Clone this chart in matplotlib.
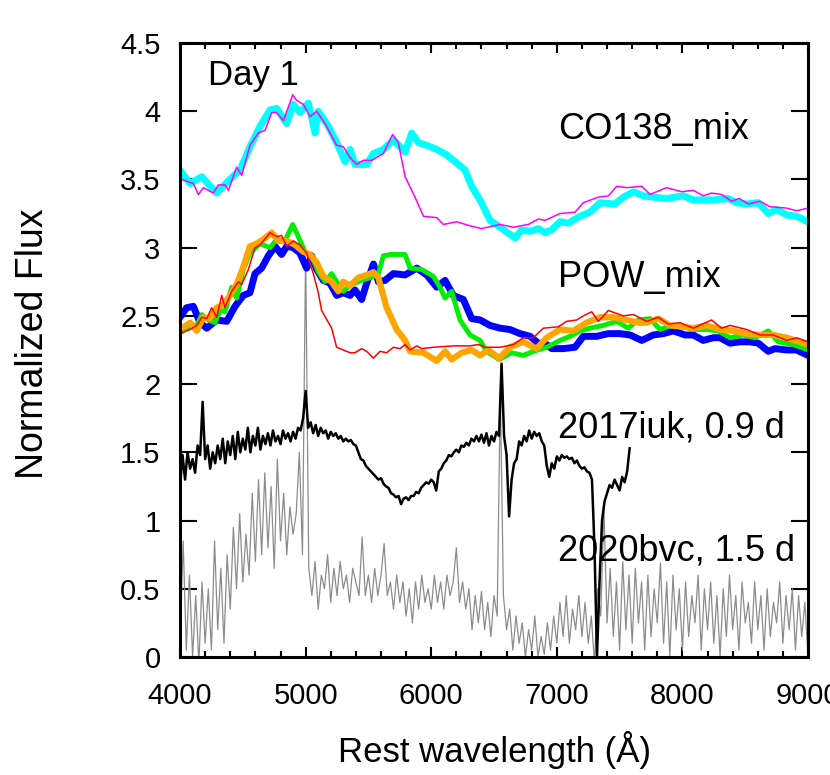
import numpy as np
import matplotlib
matplotlib.use('Agg')
import matplotlib.pyplot as plt
from matplotlib.ticker import MultipleLocator, FormatStrFormatter

plt.rcParams['font.family'] = ['Liberation Sans', 'DejaVu Sans']
FONT_SIZE = 21

# ---- CO138_mix models (cyan thick, magenta thin) ----
co_a_wl = [4013, 4080, 4173, 4292, 4385, 4478, 4557, 4637, 4717, 4770, 4849, 4902, 4955,
           5022, 5075, 5101, 5181, 5247, 5314, 5354, 5393, 5486, 5540, 5619, 5699, 5792,
           5845, 5898, 5964, 6044, 6123, 6203, 6269, 6322, 6400, 6468, 6548, 6667, 6720,
           6787, 6853, 6906, 6959, 7025, 7092, 7185, 7264, 7344, 7463, 7530, 7609, 7689,
           7768, 7874, 8007, 8087, 8166, 8246, 8365, 8432, 8511, 8604, 8684, 8750, 8830,
           8909, 9000]
co_a_fx = [3.55, 3.47, 3.52, 3.40, 3.49, 3.57, 3.74, 3.89, 4.01, 4.02, 3.91, 4.05, 3.99,
           4.06, 3.84, 4.00, 3.89, 3.77, 3.63, 3.72, 3.61, 3.61, 3.69, 3.72, 3.79, 3.70,
           3.84, 3.77, 3.75, 3.72, 3.68, 3.62, 3.57, 3.45, 3.33, 3.20, 3.15, 3.07, 3.13,
           3.12, 3.14, 3.11, 3.13, 3.19, 3.18, 3.23, 3.26, 3.33, 3.32, 3.37, 3.41, 3.38,
           3.37, 3.36, 3.38, 3.35, 3.35, 3.35, 3.36, 3.33, 3.32, 3.33, 3.25, 3.28, 3.24,
           3.23, 3.19]

co_b_wl = [4000, 4013, 4106, 4146, 4186, 4265, 4305, 4358, 4385, 4451, 4491, 4557, 4623,
           4677, 4730, 4770, 4823, 4897, 4928, 4982, 5035, 5088, 5154, 5247, 5300, 5354,
           5406, 5459, 5526, 5619, 5693, 5738, 5792, 5871, 5938, 6044, 6097, 6203, 6309,
           6400, 6548, 6654, 6773, 6853, 6906, 7025, 7145, 7211, 7331, 7411, 7477, 7557,
           7676, 7742, 7874, 7994, 8087, 8166, 8232, 8312, 8392, 8452, 8525, 8618, 8697,
           8830, 8909, 9000]
co_b_fx = [3.51, 3.50, 3.47, 3.39, 3.44, 3.40, 3.46, 3.46, 3.42, 3.59, 3.53, 3.75, 3.84,
           3.86, 3.99, 3.99, 3.93, 4.12, 4.08, 4.05, 3.96, 4.00, 3.91, 3.75, 3.74, 3.66,
           3.61, 3.64, 3.64, 3.69, 3.83, 3.77, 3.52, 3.37, 3.23, 3.22, 3.17, 3.19, 3.16,
           3.14, 3.17, 3.15, 3.17, 3.21, 3.20, 3.25, 3.26, 3.33, 3.37, 3.38, 3.45, 3.44,
           3.45, 3.39, 3.44, 3.41, 3.42, 3.38, 3.40, 3.39, 3.34, 3.36, 3.32, 3.34, 3.30,
           3.29, 3.27, 3.29]

# ---- POW_mix models ----
pow_blue_wl = [4000, 4053, 4106, 4159, 4213, 4292, 4372, 4438, 4504, 4557, 4597, 4650, 4703,
               4756, 4809, 4849, 4902, 4955, 5008, 5048, 5088, 5141, 5194, 5247, 5300,
               5354, 5393, 5446, 5486, 5540, 5579, 5632, 5699, 5792, 5885, 5964, 6044,
               6110, 6176, 6256, 6322, 6389, 6468, 6548, 6627, 6707, 6787, 6853, 6919,
               6959, 7052, 7145, 7211, 7317, 7410, 7503, 7583, 7676, 7768, 7848, 7928,
               8021, 8087, 8166, 8246, 8299, 8379, 8458, 8537, 8604, 8684, 8737, 8830,
               8909, 9000]
pow_blue_fx = [2.49, 2.56, 2.57, 2.45, 2.41, 2.47, 2.46, 2.57, 2.65, 2.67, 2.81, 2.85, 2.94,
               3.01, 2.95, 3.01, 3.00, 2.96, 2.85, 2.94, 2.84, 2.76, 2.74, 2.65, 2.67,
               2.65, 2.69, 2.62, 2.74, 2.88, 2.75, 2.76, 2.81, 2.80, 2.85, 2.80, 2.71,
               2.76, 2.65, 2.62, 2.48, 2.47, 2.43, 2.41, 2.40, 2.37, 2.35, 2.30, 2.29,
               2.26, 2.26, 2.27, 2.35, 2.35, 2.37, 2.37, 2.36, 2.32, 2.36, 2.37, 2.39,
               2.36, 2.36, 2.32, 2.34, 2.34, 2.30, 2.31, 2.31, 2.30, 2.24, 2.26, 2.25,
               2.25, 2.21]

pow_green_wl = [4000, 4080, 4133, 4173, 4226, 4279, 4318, 4358, 4411, 4451, 4504, 4557, 4637,
                4717, 4770, 4836, 4897, 4942, 4995, 5048, 5101, 5154, 5207, 5247, 5300,
                5366, 5446, 5513, 5579, 5619, 5672, 5792, 5831, 5924, 6017, 6070, 6110,
                6163, 6229, 6309, 6389, 6441, 6541, 6640, 6733, 6813, 6919, 7025, 7105,
                7185, 7264, 7370, 7477, 7569, 7649, 7742, 7822, 7915, 8007, 8100, 8193,
                8285, 8379, 8484, 8577, 8684, 8763, 8882, 9000]
pow_green_fx = [2.38, 2.42, 2.43, 2.51, 2.47, 2.45, 2.54, 2.53, 2.71, 2.63, 2.84, 2.96, 3.03,
                3.00, 3.06, 3.05, 3.17, 3.08, 2.97, 2.94, 2.82, 2.75, 2.81, 2.75, 2.68,
                2.73, 2.76, 2.78, 2.81, 2.94, 2.95, 2.95, 2.85, 2.84, 2.79, 2.71, 2.63,
                2.68, 2.47, 2.36, 2.32, 2.24, 2.18, 2.23, 2.21, 2.24, 2.27, 2.32, 2.35,
                2.39, 2.41, 2.43, 2.46, 2.41, 2.47, 2.48, 2.40, 2.43, 2.42, 2.40, 2.40,
                2.39, 2.34, 2.36, 2.34, 2.39, 2.31, 2.29, 2.25]

pow_orange_wl = [4000, 4080, 4133, 4186, 4239, 4292, 4345, 4398, 4451, 4504, 4557, 4611, 4677,
                 4730, 4783, 4849, 4916, 4982, 5035, 5088, 5141, 5207, 5260, 5300, 5354,
                 5420, 5486, 5540, 5579, 5645, 5725, 5792, 5831, 5938, 6044, 6110, 6163,
                 6242, 6322, 6389, 6455, 6541, 6627, 6733, 6839, 6919, 7025, 7131, 7237,
                 7344, 7450, 7556, 7649, 7715, 7808, 7901, 8007, 8087, 8193, 8299, 8405,
                 8511, 8618, 8724, 8830, 9000]
pow_orange_fx = [2.40, 2.45, 2.39, 2.49, 2.48, 2.56, 2.58, 2.65, 2.73, 2.86, 3.01, 3.03, 3.07,
                 3.11, 3.05, 3.05, 3.02, 2.97, 2.95, 2.89, 2.79, 2.75, 2.68, 2.75, 2.72,
                 2.78, 2.80, 2.82, 2.78, 2.56, 2.40, 2.32, 2.24, 2.23, 2.17, 2.24, 2.18,
                 2.23, 2.25, 2.21, 2.25, 2.19, 2.27, 2.31, 2.26, 2.34, 2.40, 2.39, 2.45,
                 2.49, 2.49, 2.47, 2.45, 2.45, 2.48, 2.43, 2.42, 2.41, 2.43, 2.40, 2.39,
                 2.37, 2.36, 2.36, 2.34, 2.29]

pow_red_wl = [4000, 4080, 4133, 4173, 4213, 4252, 4292, 4332, 4358, 4411, 4464, 4491, 4544,
              4597, 4637, 4717, 4770, 4809, 4849, 4902, 4955, 5008, 5061, 5101, 5127,
              5207, 5247, 5300, 5354, 5393, 5446, 5486, 5540, 5592, 5645, 5699, 5752,
              5792, 5831, 5885, 5924, 6017, 6176, 6309, 6375, 6428, 6508, 6548, 6654,
              6733, 6813, 6893, 7012, 7078, 7158, 7211, 7278, 7331, 7410, 7530, 7609,
              7715, 7808, 7888, 7981, 8087, 8232, 8312, 8379, 8511, 8618, 8724, 8830,
              8909, 9000]
pow_red_fx = [2.37, 2.40, 2.43, 2.49, 2.48, 2.56, 2.49, 2.65, 2.56, 2.68, 2.75, 2.73, 2.84,
              3.00, 3.02, 3.11, 3.08, 3.09, 3.01, 3.05, 3.02, 2.96, 2.81, 2.67, 2.54,
              2.41, 2.27, 2.25, 2.23, 2.23, 2.26, 2.24, 2.19, 2.24, 2.23, 2.27, 2.26,
              2.29, 2.25, 2.28, 2.26, 2.27, 2.28, 2.28, 2.29, 2.27, 2.27, 2.27, 2.29,
              2.34, 2.34, 2.41, 2.42, 2.46, 2.47, 2.50, 2.53, 2.46, 2.54, 2.50, 2.51,
              2.46, 2.49, 2.44, 2.45, 2.41, 2.47, 2.41, 2.43, 2.40, 2.36, 2.36, 2.32,
              2.34, 2.31]

# ---- SN 2017iuk, 0.9 d (sampled every 20 A from 4000 A) ----
iuk_start, iuk_step = 4000, 20
iuk_fx = [1.25, 1.48, 1.30, 1.50, 1.38, 1.45, 1.35, 1.55, 1.48, 1.87,
          1.45, 1.55, 1.38, 1.50, 1.42, 1.55, 1.45, 1.60, 1.42, 1.58,
          1.48, 1.62, 1.45, 1.65, 1.50, 1.60, 1.52, 1.68, 1.50, 1.62,
          1.55, 1.68, 1.52, 1.62, 1.56, 1.64, 1.55, 1.66, 1.58, 1.62,
          1.56, 1.66, 1.60, 1.64, 1.58, 1.65, 1.60, 1.68, 1.66, 1.75,
          1.95, 1.68, 1.72, 1.64, 1.70, 1.62, 1.68, 1.64, 1.66, 1.60,
          1.65, 1.62, 1.64, 1.60, 1.62, 1.58, 1.60, 1.58, 1.59, 1.56,
          1.55, 1.50, 1.45, 1.44, 1.40, 1.38, 1.36, 1.34, 1.32, 1.30,
          1.31, 1.27, 1.25, 1.24, 1.20, 1.19, 1.17, 1.18, 1.12, 1.16,
          1.17, 1.15, 1.18, 1.18, 1.21, 1.20, 1.24, 1.26, 1.28, 1.27,
          1.30, 1.28, 1.22, 1.36, 1.38, 1.42, 1.44, 1.48, 1.47, 1.50,
          1.52, 1.50, 1.55, 1.54, 1.57, 1.55, 1.60, 1.58, 1.62, 1.58,
          1.63, 1.57, 1.64, 1.55, 1.62, 1.58, 1.65, 1.62, 2.15, 1.62,
          1.48, 1.03, 1.30, 1.42, 1.45, 1.58, 1.55, 1.62, 1.58, 1.66,
          1.60, 1.65, 1.62, 1.64, 1.58, 1.55, 1.40, 1.32, 1.42, 1.38,
          1.47, 1.44, 1.48, 1.46, 1.47, 1.45, 1.46, 1.42, 1.44, 1.40,
          1.38, 1.39, 1.36, 1.35, 1.30, 0.80, 0.00, 0.55, 1.00, 1.14,
          1.20, 1.26, 1.24, 1.30, 1.26, 1.22, 1.32, 1.28, 1.36, 1.53]

# ---- SN 2020bvc, 1.5 d (sampled every 25 A from 4000 A) ----
bvc_start, bvc_step = 4000, 25
bvc_fx = [0.10, 0.85, 0.05, 0.60, 0.00, 0.45, -0.05, 0.55, 0.10, 0.50,
          0.05, 0.85, 0.20, 0.65, 0.10, 0.75, 0.35, 0.95, 0.50, 1.05,
          0.55, 0.90, 0.60, 1.20, 0.70, 1.30, 0.75, 1.35, 0.80, 1.25,
          0.65, 1.45, 0.85, 1.20, 0.75, 1.10, 0.90, 1.05, 1.50, 0.75,
          2.98, 0.65, 0.45, 0.70, 0.35, 0.60, 0.50, 0.75, 0.40, 0.65,
          0.45, 0.70, 0.50, 0.60, 0.40, 0.65, 0.55, 0.45, 0.88, 0.45,
          0.60, 0.40, 0.65, 0.45, 0.60, 0.83, 0.45, 0.55, 0.35, 0.60,
          0.40, 0.55, 0.30, 0.50, 0.25, 0.55, 0.35, 0.60, 0.40, 0.50,
          0.35, 0.60, 0.40, 0.55, 0.35, 0.60, 0.45, 0.55, 0.80, 0.40,
          0.55, 0.35, 0.50, 0.20, 0.45, 0.25, 0.48, 0.20, 0.40, 0.15,
          0.45, 0.30, 1.95, 0.45, 0.20, 0.35, 0.05, 0.30, 0.10, 0.25,
          0.00, 0.20, 0.05, 0.30, 0.00, 0.15, 0.02, 0.25, 0.05, 0.30,
          0.10, 0.40, 0.15, 0.45, 0.10, 0.35, 0.20, 0.45, 0.15, 0.40,
          0.10, 0.30, -0.05, 0.50, 0.30, 1.10, 0.25, 0.65, 0.15, 0.55,
          0.05, 0.70, 0.20, 0.60, 0.10, 0.65, 0.25, 0.55, 0.05, 0.60,
          0.15, 0.50, 0.25, 0.69, 0.10, 0.55, 0.00, 0.60, 0.20, 0.50,
          0.05, 0.55, 0.15, 0.45, 0.25, 0.60, 0.05, 0.50, 0.20, 0.55,
          0.10, 0.45, 0.00, 0.50, 0.15, 0.60, 0.20, 0.45, 0.05, 0.55,
          0.25, 0.40, 0.10, 0.55, 0.20, 0.45, 0.05, 0.50, 0.15, 0.40,
          0.25, 0.55, 0.10, 0.45, 0.20, 0.50, 0.05, 0.45, 0.15, 0.40,
          0.00]

iuk_wl = iuk_start + iuk_step * np.arange(len(iuk_fx))
bvc_wl = bvc_start + bvc_step * np.arange(len(bvc_fx))

fig = plt.figure(figsize=(8.3, 7.75), dpi=100)
ax = fig.add_axes([0.2169, 0.1523, 0.7566, 0.7922])

ax.plot(bvc_wl, bvc_fx, color='#8c8c8c', lw=0.9)
ax.plot(iuk_wl, iuk_fx, color='black', lw=1.8)

ax.plot(pow_blue_wl, pow_blue_fx, color='#0000ff', lw=5)
ax.plot(pow_green_wl, pow_green_fx, color='#00ee00', lw=3.5)
ax.plot(pow_orange_wl, pow_orange_fx, color='#ffa500', lw=4.5)
ax.plot(pow_red_wl, pow_red_fx, color='#ff0000', lw=1.1)

ax.plot(co_a_wl, co_a_fx, color='#00ffff', lw=5)
ax.plot(co_b_wl, co_b_fx, color='#ff00ff', lw=1.1)

ax.set_xlim(4000, 9000)
ax.set_ylim(0, 4.5)

ax.xaxis.set_major_locator(MultipleLocator(1000))
ax.xaxis.set_minor_locator(MultipleLocator(200))
ax.yaxis.set_major_locator(MultipleLocator(0.5))
ax.yaxis.set_major_formatter(FormatStrFormatter('%g'))

ax.tick_params(which='both', direction='in', top=True, right=True,
               labelsize=FONT_SIZE, width=1.5)
ax.tick_params(axis='x', which='major', length=7, pad=18)
ax.tick_params(axis='x', which='minor', length=4)
ax.tick_params(axis='y', which='major', length=12, pad=14)
for s in ax.spines.values():
    s.set_linewidth(2.2)

ax.set_xlabel('Rest wavelength (Å)', fontsize=25)
ax.set_ylabel('Normalized Flux', fontsize=27)
ax.xaxis.set_label_coords(0.5, -0.12)
ax.yaxis.set_label_coords(-0.205, 0.51)

ax.text(4223, 4.19, 'Day 1', fontsize=25)
ax.text(7010, 3.80, 'CO138_mix', fontsize=26)
ax.text(7010, 2.71, 'POW_mix', fontsize=26)
ax.text(7010, 1.61, '2017iuk, 0.9 d', fontsize=26)
ax.text(7010, 0.71, '2020bvc, 1.5 d', fontsize=26)

fig.savefig('out.png', dpi=100)
